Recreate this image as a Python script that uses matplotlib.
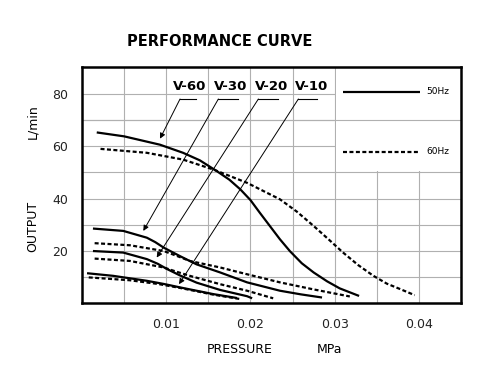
import matplotlib
matplotlib.use("Agg")
import matplotlib.pyplot as plt
from matplotlib.patches import Rectangle

# ---- data (pressure MPa, output L/min) ----
v60_50_x = [0.00175, 0.0050, 0.00926, 0.0120, 0.0140, 0.0160, 0.0175, 0.0188, 0.0200, 0.0211, 0.0223,
            0.0235, 0.0247, 0.0261, 0.0275, 0.0291, 0.0306, 0.0329]
v60_50_y = [65.3, 63.8, 60.6, 57.5, 54.6, 50.5, 47.2, 43.5, 39.4, 34.6, 29.5,
            24.4, 19.8, 15.2, 11.7, 8.3, 5.6, 2.7]
v60_60_x = [0.0022, 0.0077, 0.0120, 0.0156, 0.0196, 0.0235, 0.0255, 0.0275, 0.0293, 0.0310, 0.0328,
            0.0346, 0.0362, 0.0378, 0.0395]
v60_60_y = [59.0, 57.5, 54.9, 51.1, 46.0, 39.7, 35.0, 29.5, 24.3, 19.3, 14.5,
            10.4, 7.4, 5.3, 3.0]

v30_50_x = [0.0013, 0.0049, 0.0077, 0.0087, 0.0097, 0.0116, 0.0136, 0.0164, 0.0196, 0.0235, 0.0260, 0.0285]
v30_50_y = [28.5, 27.6, 25.0, 23.3, 21.2, 18.0, 14.8, 11.7, 7.9, 4.7, 3.3, 2.1]
v30_60_x = [0.0015, 0.0057, 0.0097, 0.0112, 0.0128, 0.0164, 0.0196, 0.0235, 0.0275, 0.0318]
v30_60_y = [22.9, 22.1, 19.9, 18.1, 16.1, 13.6, 11.0, 7.9, 5.2, 2.5]

v20_50_x = [0.0013, 0.0049, 0.0077, 0.0090, 0.0101, 0.0116, 0.0136, 0.0164, 0.0196, 0.0202]
v20_50_y = [19.9, 19.3, 16.8, 15.0, 13.0, 10.6, 7.8, 5.0, 2.6, 1.8]
v20_60_x = [0.0015, 0.0057, 0.0097, 0.0112, 0.0128, 0.0164, 0.0196, 0.0227]
v20_60_y = [17.0, 16.1, 13.6, 12.0, 10.4, 7.2, 4.7, 1.8]

v10_50_x = [0.0006, 0.0037, 0.0077, 0.0097, 0.0116, 0.0156, 0.0184]
v10_50_y = [11.4, 10.4, 8.5, 7.3, 6.0, 3.4, 1.9]
v10_60_x = [0.0008, 0.0057, 0.0090, 0.0116, 0.0156, 0.0188]
v10_60_y = [9.8, 8.7, 7.3, 5.8, 3.2, 1.5]

models = ["V-60", "V-30", "V-20", "V-10"]
x_ticks = [0.01, 0.02, 0.03, 0.04]
x_tick_labels = ["0.01", "0.02", "0.03", "0.04"]
y_ticks = [20, 40, 60, 80]
y_tick_labels = ["20", "40", "60", "80"]

# ---- figure ----
fig = plt.figure(figsize=(5, 3.75), dpi=100)
ax = fig.add_axes([0.164, 0.192, 0.758, 0.629])
ax.set_xlim(0, 0.045)
ax.set_ylim(0, 90.3)

ax.set_xticks(x_ticks)
ax.set_xticklabels(x_tick_labels)
ax.set_xticks([0.005, 0.015, 0.025, 0.035], minor=True)
ax.set_yticks(y_ticks)
ax.set_yticklabels(y_tick_labels)
ax.set_yticks([10, 30, 50, 70], minor=True)
ax.tick_params(which="both", length=0, labelsize=9, colors="#222222")
ax.tick_params(axis="x", pad=11)
ax.tick_params(axis="y", pad=10)
ax.set_axisbelow(True)
ax.grid(which="both", color="#b0b0b0", linewidth=0.8)
for s in ax.spines.values():
    s.set_linewidth(1.8)
    s.set_color("black")

# blank legend area (grid absent there), keep the 70 line
ax.add_patch(Rectangle((0.0302, 50.6), 0.0148, 40, facecolor="white",
                       edgecolor="none", zorder=0.8))
ax.axhline(70, color="#b0b0b0", linewidth=0.8, zorder=0.9)

solid = dict(color="black", linewidth=1.6, solid_capstyle="butt",
             solid_joinstyle="round", zorder=3)
dotted = dict(color="black", linewidth=1.6, linestyle=(0, (1.8, 1.1)), zorder=3)

ax.plot(v60_50_x, v60_50_y, **solid)
ax.plot(v60_60_x, v60_60_y, **dotted)
ax.plot(v30_50_x, v30_50_y, **solid)
ax.plot(v30_60_x, v30_60_y, **dotted)
ax.plot(v20_50_x, v20_50_y, **solid)
ax.plot(v20_60_x, v20_60_y, **dotted)
ax.plot(v10_50_x, v10_50_y, **solid)
ax.plot(v10_60_x, v10_60_y, **dotted)

# leader annotations
label_x = [0.01283, 0.0177, 0.02245, 0.0272]
corner_x = [0.01164, 0.01619, 0.02094, 0.02569]
end_x = [0.01354, 0.01856, 0.02331, 0.02787]
tips = [(0.00926, 62.9), (0.00728, 27.6), (0.00887, 17.4), (0.01152, 7.2)]
lead_y = 78.1
for name, lx, cx, ex, tip in zip(models, label_x, corner_x, end_x, tips):
    ax.text(lx, 83.0, name, ha="center", va="center", fontsize=9.5,
            fontweight="bold", zorder=4)
    ax.plot([cx, ex], [lead_y, lead_y], color="black", linewidth=0.8, zorder=4)
    ax.annotate("", xy=tip, xytext=(cx, lead_y),
                arrowprops=dict(arrowstyle="-|>", color="black", lw=0.7,
                                mutation_scale=8, shrinkA=0, shrinkB=0),
                zorder=4)

# legend
ax.plot([0.03103, 0.04014], [80.8, 80.8], **solid)
ax.plot([0.03103, 0.03995], [57.9, 57.9], **dotted)
ax.text(0.0409, 80.8, "50Hz", fontsize=6.5, va="center", ha="left", zorder=4)
ax.text(0.0409, 57.9, "60Hz", fontsize=6.5, va="center", ha="left", zorder=4)

# titles / axis labels
fig.text(0.44, 0.89, "PERFORMANCE CURVE", ha="center", va="center",
         fontsize=10.5, fontweight="bold")
fig.text(0.066, 0.395, "OUTPUT", rotation=90, ha="center", va="center", fontsize=9)
fig.text(0.066, 0.675, "L/min", rotation=90, ha="center", va="center", fontsize=9)
fig.text(0.48, 0.067, "PRESSURE", ha="center", va="center", fontsize=9)
fig.text(0.66, 0.067, "MPa", ha="center", va="center", fontsize=9)

fig.savefig("out.png", dpi=100, facecolor="white")
